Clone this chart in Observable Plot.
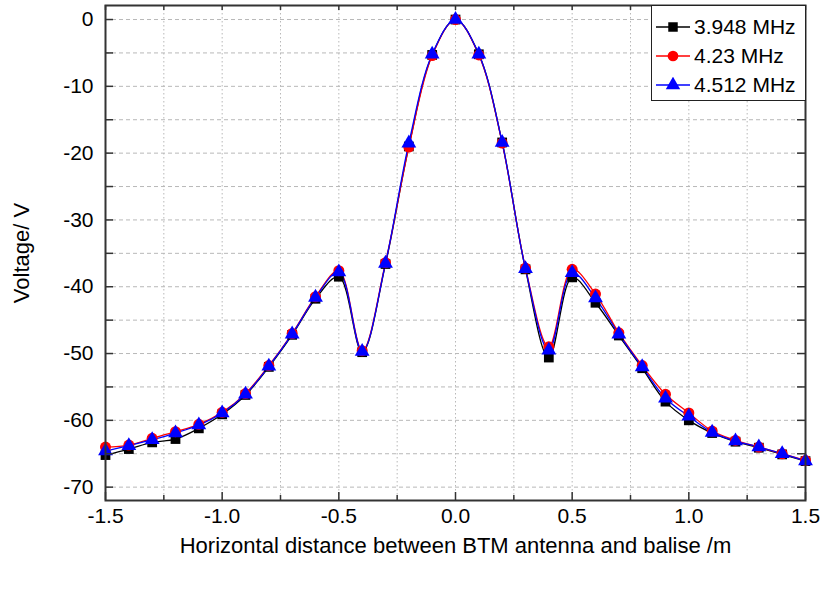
<!DOCTYPE html>
<html>
<head>
<meta charset="utf-8">
<script src="https://cdn.jsdelivr.net/npm/d3@7"></script>
<script src="https://cdn.jsdelivr.net/npm/@observablehq/plot@0.6"></script>
<style>
  body { margin: 0; background: #fff; font-family: "Liberation Sans", Arial, sans-serif; }
  #chart { position: relative; width: 820px; height: 589px; }
  #legend {
    position: absolute; left: 651px; top: 5px; width: 155px; height: 96px;
    border: 1.5px solid #222; background: #fff; box-sizing: border-box;
    padding: 6px 0 0 2px; font-size: 21px; color: #000;
  }
  #legend .row { display: flex; align-items: center; height: 29px; white-space: nowrap; }
  #legend svg { margin-right: 2px; flex: none; }
</style>
</head>
<body>
<div id="chart"><div id="legend"></div></div>
<script>
// Horizontal distance between the BTM antenna and the balise (m)
const distance = [-1.5, -1.4, -1.3, -1.2, -1.1, -1.0, -0.9, -0.8, -0.7, -0.6, -0.5, -0.4, -0.3, -0.2, -0.1,
  0, 0.1, 0.2, 0.3, 0.4, 0.5, 0.6, 0.7, 0.8, 0.9, 1.0, 1.1, 1.2, 1.3, 1.4, 1.5];

// Induced voltage (V) at each carrier frequency
const volt3948 = [-65.2, -64.3, -63.3, -62.8, -61.2, -59.1, -56.2, -52.0, -47.2, -41.8, -38.5, -49.8, -36.6, -19.0, -5.3,
  0, -5.2, -18.4, -37.4, -50.6, -38.6, -42.4, -47.3, -52.2, -57.2, -60.0, -61.9, -63.2, -64.1, -65.1, -66.1];
const volt423 = [-64.0, -63.7, -62.7, -61.7, -60.6, -58.8, -56.0, -51.8, -47.0, -41.5, -37.6, -49.6, -36.4, -19.1, -5.4,
  0, -5.3, -18.5, -37.2, -49.0, -37.4, -41.1, -46.9, -51.8, -56.1, -58.9, -61.6, -63.0, -64.0, -65.0, -66.0];
const volt4512 = [-64.6, -63.8, -62.9, -61.9, -60.7, -58.9, -56.1, -51.9, -47.1, -41.6, -37.8, -49.7, -36.5, -18.5, -5.2,
  0, -5.2, -18.4, -37.3, -49.5, -37.9, -41.7, -47.1, -52.0, -56.7, -59.4, -61.8, -63.1, -64.0, -65.0, -66.1];

const seriesNames = ["3.948 MHz", "4.23 MHz", "4.512 MHz"];
const seriesColors = ["#000000", "#ff0000", "#0000ff"];
const seriesSymbols = ["square", "circle", "triangle"];

const xTickLabels = [-1.5, -1.0, -0.5, 0, 0.5, 1.0, 1.5];
const xMinorTicks = [-1.25, -0.75, -0.25, 0.25, 0.75, 1.25];
const yTickLabels = [0, -10, -20, -30, -40, -50, -60, -70];
const yMinorTicks = [-5, -15, -25, -35, -45, -55, -65];

const seriesValues = [volt3948, volt423, volt4512];
const rows = seriesNames.flatMap((name, i) =>
  distance.map((x, j) => ({series: name, x, v: seriesValues[i][j]})));

const W = 820, H = 589;
const mL = 105, mR = 15, mT = 5, mB = 89;
const innerW = W - mL - mR, innerH = H - mT - mB;

const gridGray = "#b8b8b8";
const axisGray = "#333";
const allY = [...yTickLabels, ...yMinorTicks];
const allX = [...xTickLabels, ...xMinorTicks];

const plot = Plot.plot({
  width: W, height: H,
  marginLeft: mL, marginRight: mR, marginTop: mT, marginBottom: mB,
  style: {fontFamily: "'Liberation Sans', Arial, sans-serif", fontSize: "21px", color: "#000", background: "#fff"},
  x: {domain: [-1.5, 1.5]},
  y: {domain: [-72, 2.1]},
  color: {domain: seriesNames, range: seriesColors},
  symbol: {domain: seriesNames, range: seriesSymbols},
  marks: [
    Plot.gridY(allY, {stroke: gridGray, strokeOpacity: 1, strokeDasharray: "4,3"}),
    Plot.gridX(xMinorTicks.concat(xTickLabels.slice(1, -1)), {stroke: gridGray, strokeOpacity: 1, strokeDasharray: "1.5,2.5"}),
    Plot.line(rows, {x: "x", y: "v", z: "series", stroke: "series", strokeWidth: 1.3, curve: "catmull-rom"}),
    Plot.dot(rows, {x: "x", y: "v", fill: "series", symbol: "series", r: 5.5, stroke: null}),
    // inward ticks on all four sides
    Plot.tickX(xTickLabels, {x: d => d, insetTop: innerH - 8, stroke: axisGray, strokeWidth: 1.5}),
    Plot.tickX(xMinorTicks, {x: d => d, insetTop: innerH - 5, stroke: axisGray, strokeWidth: 1.5}),
    Plot.tickX(allX, {x: d => d, insetBottom: innerH - 5, stroke: axisGray, strokeWidth: 1.5}),
    Plot.tickY(allY, {y: d => d, insetRight: innerW - 8, stroke: axisGray, strokeWidth: 1.5}),
    Plot.tickY(allY, {y: d => d, insetLeft: innerW - 8, stroke: axisGray, strokeWidth: 1.5}),
    Plot.frame({stroke: axisGray, strokeWidth: 2}),
    Plot.axisX(xTickLabels, {tickSize: 0, tickPadding: 8, tickFormat: d => d.toFixed(1),
      label: null}),
    Plot.axisX({ticks: [], tickSize: 0, fontSize: 22,
      label: "Horizontal distance between BTM antenna and balise /m", labelAnchor: "center",
      labelOffset: 52, labelArrow: "none"}),
    Plot.axisY(yTickLabels, {tickSize: 0, tickPadding: 12, tickFormat: d => String(d), label: null}),
    Plot.axisY({ticks: [], tickSize: 0, fontSize: 22,
      label: "Voltage/ V", labelAnchor: "center", labelOffset: 92, labelArrow: "none"})
  ]
});
document.getElementById("chart").prepend(plot);

// legend: line sample with marker, then frequency label
const legend = d3.select("#legend");
seriesNames.forEach((name, i) => {
  const row = legend.append("div").attr("class", "row");
  const s = row.append("svg").attr("width", 38).attr("height", 16);
  s.append("line").attr("x1", 2).attr("x2", 36).attr("y1", 8).attr("y2", 8)
    .attr("stroke", seriesColors[i]).attr("stroke-width", 1.3);
  const sym = (seriesSymbols[i] === "square" ? d3.symbolSquare :
    seriesSymbols[i] === "circle" ? d3.symbolCircle : d3.symbolTriangle);
  s.append("path").attr("transform", "translate(19,8)")
    .attr("d", d3.symbol(sym, 90)()).attr("fill", seriesColors[i]);
  row.append("span").text(name);
});
</script>
</body>
</html>
